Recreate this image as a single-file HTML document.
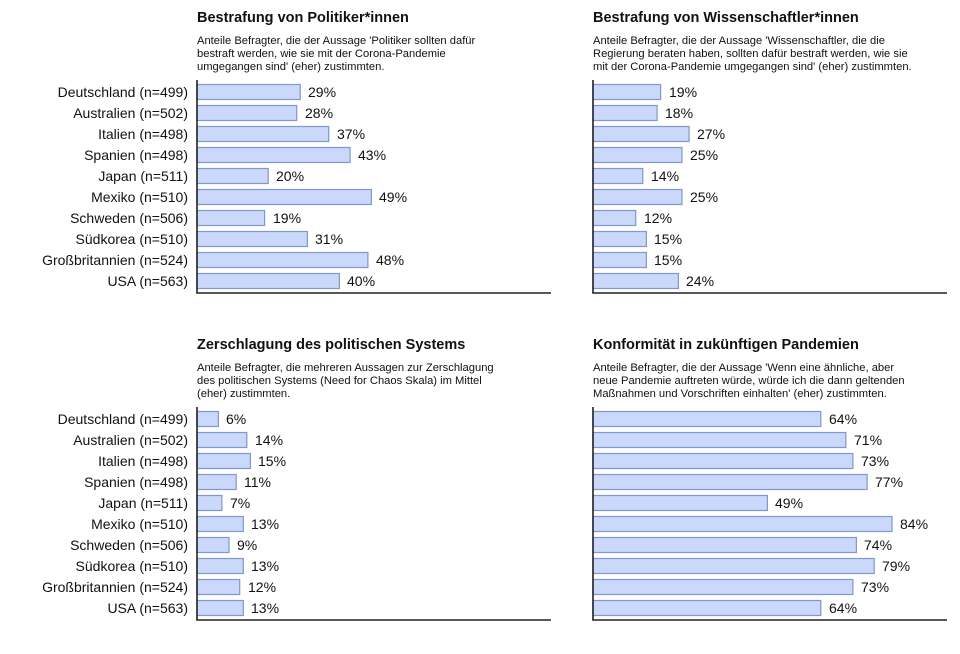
<!DOCTYPE html>
<html><head><meta charset="utf-8"><style>
body{margin:0;background:#fff;}
svg{display:block;font-family:"Liberation Sans",Arial,sans-serif;}
.t{font-size:14.5px;font-weight:bold;fill:#111}
.s{font-size:11.2px;fill:#111}
.c{font-size:14px;fill:#111;text-anchor:end}
.v{font-size:14px;fill:#111}
rect{fill:#c9d8fb;stroke:#8198cc;stroke-width:1.2}
line{stroke:#222;stroke-width:1.6}
</style></head><body>
<svg width="960" height="654" viewBox="0 0 960 654">
<text class="t" x="197" y="22">Bestrafung von Politiker*innen</text>
<text class="s" x="197" y="44">Anteile Befragter, die der Aussage 'Politiker sollten dafür</text>
<text class="s" x="197" y="57">bestraft werden, wie sie mit der Corona-Pandemie</text>
<text class="s" x="197" y="70">umgegangen sind' (eher) zustimmten.</text>
<text class="t" x="593" y="22">Bestrafung von Wissenschaftler*innen</text>
<text class="s" x="593" y="44">Anteile Befragter, die der Aussage 'Wissenschaftler, die die</text>
<text class="s" x="593" y="57">Regierung beraten haben, sollten dafür bestraft werden, wie sie</text>
<text class="s" x="593" y="70">mit der Corona-Pandemie umgegangen sind' (eher) zustimmten.</text>
<text class="t" x="197" y="349">Zerschlagung des politischen Systems</text>
<text class="s" x="197" y="371">Anteile Befragter, die mehreren Aussagen zur Zerschlagung</text>
<text class="s" x="197" y="384">des politischen Systems (Need for Chaos Skala) im Mittel</text>
<text class="s" x="197" y="397">(eher) zustimmten.</text>
<text class="t" x="593" y="349">Konformität in zukünftigen Pandemien</text>
<text class="s" x="593" y="371">Anteile Befragter, die der Aussage 'Wenn eine ähnliche, aber</text>
<text class="s" x="593" y="384">neue Pandemie auftreten würde, würde ich die dann geltenden</text>
<text class="s" x="593" y="397">Maßnahmen und Vorschriften einhalten' (eher) zustimmten.</text>

<g transform="translate(0,92)">
<text class="c" x="188" y="5">Deutschland (n=499)</text>
<text class="c" x="188" y="26">Australien (n=502)</text>
<text class="c" x="188" y="47">Italien (n=498)</text>
<text class="c" x="188" y="68">Spanien (n=498)</text>
<text class="c" x="188" y="89">Japan (n=511)</text>
<text class="c" x="188" y="110">Mexiko (n=510)</text>
<text class="c" x="188" y="131">Schweden (n=506)</text>
<text class="c" x="188" y="152">Südkorea (n=510)</text>
<text class="c" x="188" y="173">Großbritannien (n=524)</text>
<text class="c" x="188" y="194">USA (n=563)</text>
</g>
<g transform="translate(0,419)">
<text class="c" x="188" y="5">Deutschland (n=499)</text>
<text class="c" x="188" y="26">Australien (n=502)</text>
<text class="c" x="188" y="47">Italien (n=498)</text>
<text class="c" x="188" y="68">Spanien (n=498)</text>
<text class="c" x="188" y="89">Japan (n=511)</text>
<text class="c" x="188" y="110">Mexiko (n=510)</text>
<text class="c" x="188" y="131">Schweden (n=506)</text>
<text class="c" x="188" y="152">Südkorea (n=510)</text>
<text class="c" x="188" y="173">Großbritannien (n=524)</text>
<text class="c" x="188" y="194">USA (n=563)</text>
</g>

<g transform="translate(197,92)">
<rect x="0" y="-7.5" width="103.2" height="15"/><text class="v" x="111" y="5">29%</text>
<rect x="0" y="13.5" width="99.7" height="15"/><text class="v" x="108" y="26">28%</text>
<rect x="0" y="34.5" width="131.7" height="15"/><text class="v" x="140" y="47">37%</text>
<rect x="0" y="55.5" width="153.1" height="15"/><text class="v" x="161" y="68">43%</text>
<rect x="0" y="76.5" width="71.2" height="15"/><text class="v" x="79" y="89">20%</text>
<rect x="0" y="97.5" width="174.4" height="15"/><text class="v" x="182" y="110">49%</text>
<rect x="0" y="118.5" width="67.6" height="15"/><text class="v" x="76" y="131">19%</text>
<rect x="0" y="139.5" width="110.4" height="15"/><text class="v" x="118" y="152">31%</text>
<rect x="0" y="160.5" width="170.9" height="15"/><text class="v" x="179" y="173">48%</text>
<rect x="0" y="181.5" width="142.4" height="15"/><text class="v" x="150" y="194">40%</text>
<line x1="0" y1="-12" x2="0" y2="201"/><line x1="-0.8" y1="201" x2="354" y2="201"/>
</g>
<g transform="translate(593,92)">
<rect x="0" y="-7.5" width="67.6" height="15"/><text class="v" x="76" y="5">19%</text>
<rect x="0" y="13.5" width="64.1" height="15"/><text class="v" x="72" y="26">18%</text>
<rect x="0" y="34.5" width="96.1" height="15"/><text class="v" x="104" y="47">27%</text>
<rect x="0" y="55.5" width="89" height="15"/><text class="v" x="97" y="68">25%</text>
<rect x="0" y="76.5" width="49.8" height="15"/><text class="v" x="58" y="89">14%</text>
<rect x="0" y="97.5" width="89" height="15"/><text class="v" x="97" y="110">25%</text>
<rect x="0" y="118.5" width="42.7" height="15"/><text class="v" x="51" y="131">12%</text>
<rect x="0" y="139.5" width="53.4" height="15"/><text class="v" x="61" y="152">15%</text>
<rect x="0" y="160.5" width="53.4" height="15"/><text class="v" x="61" y="173">15%</text>
<rect x="0" y="181.5" width="85.4" height="15"/><text class="v" x="93" y="194">24%</text>
<line x1="0" y1="-12" x2="0" y2="201"/><line x1="-0.8" y1="201" x2="354" y2="201"/>
</g>
<g transform="translate(197,419)">
<rect x="0" y="-7.5" width="21.4" height="15"/><text class="v" x="29" y="5">6%</text>
<rect x="0" y="13.5" width="49.8" height="15"/><text class="v" x="58" y="26">14%</text>
<rect x="0" y="34.5" width="53.4" height="15"/><text class="v" x="61" y="47">15%</text>
<rect x="0" y="55.5" width="39.2" height="15"/><text class="v" x="47" y="68">11%</text>
<rect x="0" y="76.5" width="24.9" height="15"/><text class="v" x="33" y="89">7%</text>
<rect x="0" y="97.5" width="46.3" height="15"/><text class="v" x="54" y="110">13%</text>
<rect x="0" y="118.5" width="32" height="15"/><text class="v" x="40" y="131">9%</text>
<rect x="0" y="139.5" width="46.3" height="15"/><text class="v" x="54" y="152">13%</text>
<rect x="0" y="160.5" width="42.7" height="15"/><text class="v" x="51" y="173">12%</text>
<rect x="0" y="181.5" width="46.3" height="15"/><text class="v" x="54" y="194">13%</text>
<line x1="0" y1="-12" x2="0" y2="201"/><line x1="-0.8" y1="201" x2="354" y2="201"/>
</g>
<g transform="translate(593,419)">
<rect x="0" y="-7.5" width="227.8" height="15"/><text class="v" x="236" y="5">64%</text>
<rect x="0" y="13.5" width="252.8" height="15"/><text class="v" x="261" y="26">71%</text>
<rect x="0" y="34.5" width="259.9" height="15"/><text class="v" x="268" y="47">73%</text>
<rect x="0" y="55.5" width="274.1" height="15"/><text class="v" x="282" y="68">77%</text>
<rect x="0" y="76.5" width="174.4" height="15"/><text class="v" x="182" y="89">49%</text>
<rect x="0" y="97.5" width="299" height="15"/><text class="v" x="307" y="110">84%</text>
<rect x="0" y="118.5" width="263.4" height="15"/><text class="v" x="271" y="131">74%</text>
<rect x="0" y="139.5" width="281.2" height="15"/><text class="v" x="289" y="152">79%</text>
<rect x="0" y="160.5" width="259.9" height="15"/><text class="v" x="268" y="173">73%</text>
<rect x="0" y="181.5" width="227.8" height="15"/><text class="v" x="236" y="194">64%</text>
<line x1="0" y1="-12" x2="0" y2="201"/><line x1="-0.8" y1="201" x2="354" y2="201"/>
</g>
</svg>
</body></html>
